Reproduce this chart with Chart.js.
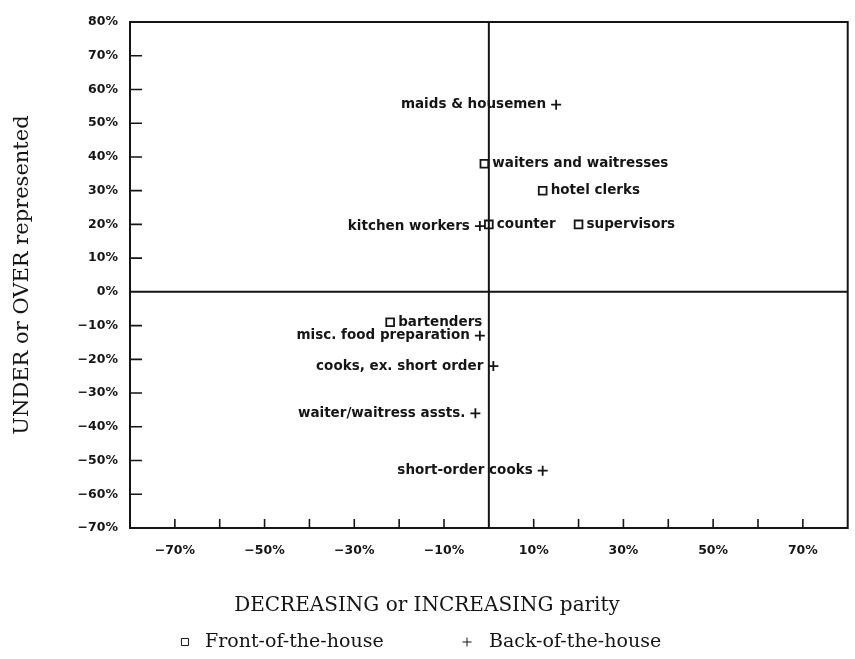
<!DOCTYPE html>
<html>
<head>
<meta charset="utf-8">
<script src="https://cdn.jsdelivr.net/npm/chart.js@4.4.0/dist/chart.umd.min.js"></script>
<style>
    html, body { margin: 0; padding: 0; background: #fff; }
</style>
</head>
<body>
<canvas id="parityChart" width="855" height="659"></canvas>
<script>
// Front-of-the-house occupations (open squares)
const frontLabels = ['waiters and waitresses', 'hotel clerks', 'counter', 'supervisors', 'bartenders'];
const frontParity = [-1, 12, 0, 20, -22];
const frontRepresented = [38, 30, 20, 20, -9];

// Back-of-the-house occupations (crosses)
const backLabels = ['maids & housemen', 'kitchen workers', 'misc. food preparation', 'cooks, ex. short order', 'waiter/waitress assts.', 'short-order cooks'];
const backParity = [15, -2, -2, 1, -3, 12];
const backRepresented = [55.5, 19.5, -13, -22, -36, -53];

// tick labels
const xTickLabels = [-70, -50, -30, -10, 10, 30, 50, 70];
const yTickLabels = [80, 70, 60, 50, 40, 30, 20, 10, 0, -10, -20, -30, -40, -50, -60, -70];

const seriesNames = ['Front-of-the-house', 'Back-of-the-house'];

const INK = '#151515';
const pointFont = 'bold 13.5px "DejaVu Sans"';
const serif = '"DejaVu Serif"';

const pct = v => (v < 0 ? '\u2212' + Math.abs(v) : v) + '%';

// box, zero lines and the little inward ticks
const framePlugin = {
    id: 'frame',
    beforeDatasetsDraw(chart) {
        const { ctx, chartArea: a, scales: { x, y } } = chart;
        ctx.save();
        ctx.strokeStyle = INK;
        ctx.lineWidth = 2;
        ctx.strokeRect(a.left, a.top, a.right - a.left, a.bottom - a.top);

        const x0 = x.getPixelForValue(0);
        const y0 = y.getPixelForValue(0);
        ctx.beginPath();
        ctx.moveTo(x0, a.top); ctx.lineTo(x0, a.bottom);
        ctx.moveTo(a.left, y0); ctx.lineTo(a.right, y0);
        ctx.stroke();

        ctx.lineWidth = 1.6;
        ctx.beginPath();
        x.ticks.forEach(t => {
            if (t.value === 0 || t.value <= x.min || t.value >= x.max) return;
            const px = x.getPixelForValue(t.value);
            ctx.moveTo(px, a.bottom);
            ctx.lineTo(px, a.bottom - 9);
        });
        y.ticks.forEach(t => {
            if (t.value === 0 || t.value <= y.min || t.value >= y.max) return;
            const py = y.getPixelForValue(t.value);
            ctx.moveTo(a.left, py);
            ctx.lineTo(a.left + 12, py);
        });
        ctx.stroke();
        ctx.restore();
    }
};

// occupation names next to the markers
const pointLabelPlugin = {
    id: 'pointLabels',
    afterDatasetsDraw(chart) {
        const { ctx } = chart;
        ctx.save();
        ctx.font = pointFont;
        ctx.fillStyle = INK;
        ctx.textBaseline = 'middle';
        chart.data.datasets.forEach((ds, di) => {
            const meta = chart.getDatasetMeta(di);
            const onRight = ds.pointStyle === 'rect';
            ctx.textAlign = onRight ? 'left' : 'right';
            meta.data.forEach((pt, i) => {
                ctx.fillText(ds.data[i].label, onRight ? pt.x + 8 : pt.x - 10, pt.y);
            });
        });
        ctx.restore();
    }
};

// x title and legend, centred on the page like the original
const footerPlugin = {
    id: 'footer',
    afterDraw(chart) {
        const { ctx } = chart;
        ctx.save();
        ctx.strokeStyle = INK;
        ctx.textBaseline = 'middle';
        ctx.fillStyle = INK;
        ctx.font = `20px ${serif}`;
        ctx.textAlign = 'center';
        ctx.fillText('DECREASING or INCREASING parity', 427, 606);

        ctx.font = `19px ${serif}`;
        ctx.textAlign = 'left';
        const items = [[185, 205], [467, 489]];
        chart.data.datasets.forEach((ds, di) => {
            const [mx, tx] = items[di];
            ctx.fillStyle = ds.backgroundColor;
            Chart.helpers.drawPoint(ctx, {
                pointStyle: ds.pointStyle,
                radius: ds.pointStyle === 'rect' ? 5 : 4.5,
                rotation: 0,
                borderWidth: 1.4
            }, mx, 642);
            ctx.fillStyle = INK;
            ctx.fillText(ds.label, tx, 642);
        });
        ctx.restore();
    }
};

new Chart(document.getElementById('parityChart'), {
    type: 'scatter',
    data: {
        datasets: [
            {
                label: seriesNames[0],
                data: frontParity.map((v, i) => ({ x: v, y: frontRepresented[i], label: frontLabels[i] })),
                pointStyle: 'rect',
                pointRadius: 5.5,
                pointBorderWidth: 1.8,
                borderColor: INK,
                backgroundColor: 'rgba(0,0,0,0)'
            },
            {
                label: seriesNames[1],
                data: backParity.map((v, i) => ({ x: v, y: backRepresented[i], label: backLabels[i] })),
                pointStyle: 'cross',
                pointRadius: 5,
                pointBorderWidth: 1.8,
                borderColor: INK,
                backgroundColor: INK
            }
        ]
    },
    options: {
        responsive: false,
        animation: false,
        layout: { padding: { left: 0, top: 22, right: 1, bottom: 0 } },
        plugins: {
            legend: { display: false },
            tooltip: { enabled: false }
        },
        scales: {
            x: {
                type: 'linear',
                min: -80,
                max: 80,
                grid: { display: false, drawTicks: false },
                border: { display: false },
                afterFit: scale => {
                    scale.height = 131;
                    scale.paddingLeft = 0;
                    scale.paddingRight = 0;
                },
                ticks: {
                    stepSize: 10,
                    padding: 15,
                    autoSkip: false,
                    maxRotation: 0,
                    color: INK,
                    font: { family: 'DejaVu Sans', size: 12.5, weight: 'bold' },
                    callback: value => xTickLabels.includes(value) ? pct(value) : ''
                }
            },
            y: {
                type: 'linear',
                min: -70,
                max: 80,
                grid: { display: false, drawTicks: false },
                border: { display: false },
                afterFit: scale => { scale.width = 130; },
                afterBuildTicks: scale => { scale.ticks = yTickLabels.map(v => ({ value: v })); },
                title: {
                    display: true,
                    text: 'UNDER or OVER represented',
                    color: INK,
                    font: { family: 'DejaVu Serif', size: 21 },
                    padding: { top: 10, bottom: 0 }
                },
                ticks: {
                    padding: 12,
                    color: INK,
                    font: { family: 'DejaVu Sans', size: 12.5, weight: 'bold' },
                    callback: value => pct(value)
                }
            }
        }
    },
    plugins: [framePlugin, pointLabelPlugin, footerPlugin]
});
</script>
</body>
</html>
